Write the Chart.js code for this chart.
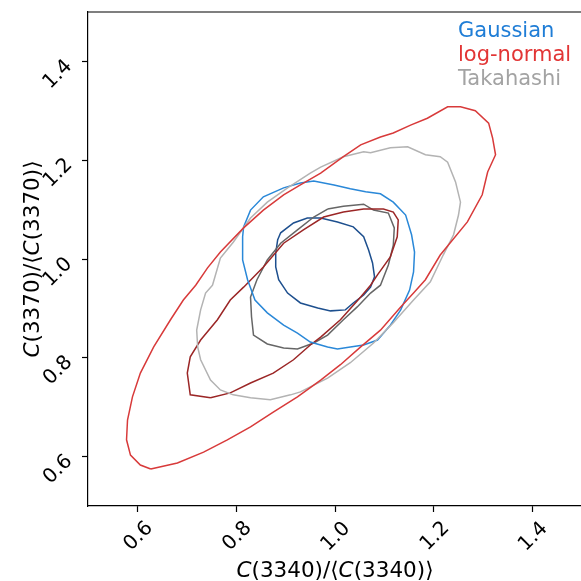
<!DOCTYPE html>
<html>
<head>
<meta charset="utf-8">
<script src="https://cdn.jsdelivr.net/npm/chart.js@4.4.1/dist/chart.umd.min.js"></script>
<style>
  html, body { margin: 0; padding: 0; background: #fff; overflow: hidden; }
  #wrap { width: 590px; height: 581px; }
</style>
</head>
<body>
<div id="wrap"><canvas id="chart" width="590" height="581"></canvas></div>
<script>
// ----- contour outlines, [x, y] relative to the mean -----
const lognormalOuter = [
  [0.627, 0.575], [0.681, 0.587], [0.734, 0.609], [0.782, 0.634], [0.829, 0.660],
  [0.875, 0.690], [0.924, 0.721], [0.971, 0.755], [1.011, 0.786], [1.052, 0.822],
  [1.092, 0.856], [1.133, 0.903], [1.159, 0.931], [1.183, 0.958], [1.213, 1.008],
  [1.268, 1.075], [1.298, 1.130], [1.309, 1.176], [1.325, 1.211], [1.319, 1.245],
  [1.311, 1.275], [1.284, 1.300], [1.254, 1.308], [1.228, 1.308], [1.187, 1.285],
  [1.153, 1.271], [1.118, 1.255], [1.092, 1.247], [1.052, 1.231], [1.017, 1.207],
  [0.971, 1.174], [0.930, 1.150], [0.896, 1.130], [0.855, 1.099], [0.815, 1.063],
  [0.768, 1.014], [0.742, 0.982], [0.718, 0.947], [0.693, 0.917], [0.667, 0.877],
  [0.633, 0.822], [0.606, 0.769], [0.590, 0.721], [0.580, 0.674], [0.578, 0.634],
  [0.586, 0.603], [0.606, 0.583]
];
const lognormalInner = [
  [0.748, 0.719], [0.788, 0.729], [0.829, 0.749], [0.875, 0.769], [0.916, 0.796],
  [0.950, 0.826], [0.971, 0.842], [1.011, 0.877], [1.052, 0.923], [1.072, 0.947],
  [1.086, 0.968], [1.112, 1.004], [1.126, 1.045], [1.128, 1.079], [1.118, 1.095],
  [1.098, 1.101], [1.058, 1.101], [1.017, 1.095], [0.977, 1.085], [0.936, 1.059],
  [0.896, 1.032], [0.855, 0.984], [0.815, 0.943], [0.788, 0.917], [0.762, 0.877],
  [0.728, 0.836], [0.707, 0.802], [0.701, 0.769], [0.707, 0.725]
];
const takahashiOuter = [
  [0.752, 0.947], [0.768, 1.002], [0.794, 1.034], [0.829, 1.083], [0.863, 1.115],
  [0.904, 1.144], [0.950, 1.174], [0.971, 1.186], [1.017, 1.207], [1.058, 1.217],
  [1.072, 1.215], [1.112, 1.225], [1.147, 1.227], [1.183, 1.211], [1.213, 1.207],
  [1.228, 1.196], [1.244, 1.156], [1.254, 1.115], [1.250, 1.089], [1.240, 1.049],
  [1.219, 1.008], [1.193, 0.954], [1.159, 0.917], [1.118, 0.871], [1.078, 0.830],
  [1.031, 0.790], [0.985, 0.759], [0.930, 0.731], [0.910, 0.725], [0.869, 0.715],
  [0.829, 0.719], [0.794, 0.725], [0.768, 0.735], [0.748, 0.755], [0.728, 0.796],
  [0.722, 0.822], [0.720, 0.856], [0.728, 0.897], [0.738, 0.931]
];
const takahashiInner = [
  [0.985, 1.101], [1.017, 1.107], [1.058, 1.111], [1.078, 1.099], [1.108, 1.093],
  [1.120, 1.063], [1.118, 1.028], [1.108, 0.988], [1.092, 0.947], [1.072, 0.931],
  [1.045, 0.903], [1.017, 0.877], [0.985, 0.846], [0.957, 0.830], [0.924, 0.818],
  [0.896, 0.820], [0.863, 0.828], [0.835, 0.846], [0.831, 0.883], [0.829, 0.923],
  [0.842, 0.958], [0.863, 0.998], [0.890, 1.032], [0.924, 1.059], [0.957, 1.085]
];
const gaussianOuter = [
  [0.813, 1.045], [0.815, 1.065], [0.829, 1.099], [0.855, 1.126], [0.896, 1.144],
  [0.930, 1.154], [0.957, 1.158], [0.998, 1.150], [1.031, 1.142], [1.062, 1.136],
  [1.092, 1.132], [1.118, 1.115], [1.143, 1.089], [1.155, 1.049], [1.161, 1.014],
  [1.159, 0.974], [1.151, 0.937], [1.133, 0.897], [1.112, 0.866], [1.086, 0.836],
  [1.058, 0.826], [1.031, 0.822], [1.005, 0.818], [0.985, 0.822], [0.950, 0.832],
  [0.924, 0.850], [0.896, 0.866], [0.863, 0.891], [0.838, 0.917], [0.823, 0.958],
  [0.813, 0.998]
];
const gaussianInner = [
  [0.884, 1.039], [0.890, 1.053], [0.916, 1.073], [0.944, 1.083], [0.971, 1.083],
  [1.005, 1.075], [1.037, 1.065], [1.058, 1.045], [1.068, 1.018], [1.076, 0.992],
  [1.080, 0.964], [1.072, 0.943], [1.058, 0.927], [1.037, 0.911], [1.021, 0.897],
  [0.991, 0.895], [0.965, 0.901], [0.930, 0.911], [0.904, 0.931], [0.886, 0.958],
  [0.880, 0.984], [0.880, 1.012]
];

const legendLabels = ['Gaussian', 'log-normal', 'Takahashi'];
const legendColors = ['#1f7dd6', '#e23535', '#a3a3a3'];
const xTicks = [0.6, 0.8, 1.0, 1.2, 1.4];
const yTicks = [0.6, 0.8, 1.0, 1.2, 1.4];
// axis titles: [text, italic?]
const xTitle = [['C', true], ['(3340)/\u27E8', false], ['C', true], ['(3340)\u27E9', false]];
const yTitle = [['C', true], ['(3370)/\u27E8', false], ['C', true], ['(3370)\u27E9', false]];

const FONT = "'DejaVu Sans', sans-serif";

function contour(points, color) {
  const pts = points.map(p => ({ x: p[0], y: p[1] }));
  pts.push(pts[0]); // close the loop
  return {
    data: pts,
    showLine: true,
    borderColor: color,
    borderWidth: 1.5,
    pointRadius: 0,
    fill: false,
    tension: 0
  };
}

function drawMixed(ctx, parts, cx, cy, rot, size) {
  ctx.save();
  ctx.translate(cx, cy);
  ctx.rotate(rot);
  let total = 0;
  const widths = parts.map(p => {
    ctx.font = (p[1] ? 'italic ' : '') + size + 'px ' + FONT;
    const w = ctx.measureText(p[0]).width;
    total += w;
    return w;
  });
  let x = -total / 2;
  ctx.textBaseline = 'middle';
  ctx.textAlign = 'left';
  ctx.fillStyle = '#000';
  parts.forEach((p, i) => {
    ctx.font = (p[1] ? 'italic ' : '') + size + 'px ' + FONT;
    ctx.fillText(p[0], x, 0);
    x += widths[i];
  });
  ctx.restore();
}

// rotated tick label, ink centred on (cx, cy)
function drawTickLabel(ctx, text, cx, cy) {
  ctx.save();
  ctx.font = '20px ' + FONT;
  ctx.fillStyle = '#000';
  ctx.textAlign = 'left';
  ctx.textBaseline = 'alphabetic';
  const m = ctx.measureText(text);
  ctx.translate(cx, cy);
  ctx.rotate(-Math.PI / 4);
  const dx = -(m.actualBoundingBoxRight - m.actualBoundingBoxLeft) / 2;
  const dy = (m.actualBoundingBoxAscent - m.actualBoundingBoxDescent) / 2;
  ctx.fillText(text, dx, dy);
  ctx.restore();
}

// top spine, tick labels, axis titles and the text-only legend
const decor = {
  id: 'decor',
  afterDraw(chart) {
    const { ctx, chartArea: a, scales } = chart;
    ctx.save();
    ctx.strokeStyle = '#000';
    ctx.lineWidth = 1.2;
    ctx.beginPath();
    ctx.moveTo(a.left, a.top);
    ctx.lineTo(a.right, a.top);
    ctx.lineTo(a.right, a.bottom);
    ctx.stroke();
    ctx.restore();

    xTicks.forEach(v => drawTickLabel(ctx, v.toFixed(1), scales.x.getPixelForValue(v), a.bottom + 29));
    yTicks.forEach(v => drawTickLabel(ctx, v.toFixed(1), a.left - 31, scales.y.getPixelForValue(v) + 11.5));

    drawMixed(ctx, xTitle, (a.left + a.right) / 2, 571, 0, 21.5);
    drawMixed(ctx, yTitle, 33, (a.top + a.bottom) / 2, -Math.PI / 2, 21.5);

    ctx.save();
    ctx.font = '21px ' + FONT;
    ctx.textAlign = 'left';
    ctx.textBaseline = 'alphabetic';
    legendLabels.forEach((t, i) => {
      ctx.fillStyle = legendColors[i];
      ctx.fillText(t, 458, 37 + i * 24);
    });
    ctx.restore();
  }
};

const tickGrid = { display: true, drawOnChartArea: false, drawTicks: true, tickLength: 6, tickWidth: 1.2, tickColor: '#000' };

new Chart(document.getElementById('chart'), {
  type: 'scatter',
  data: {
    datasets: [
      contour(lognormalOuter, '#d83a3a'),
      contour(takahashiOuter, '#b3b3b3'),
      contour(gaussianOuter, '#2a88d8'),
      contour(lognormalInner, '#9b2626'),
      contour(takahashiInner, '#666666'),
      contour(gaussianInner, '#1d4f8e')
    ]
  },
  options: {
    responsive: false,
    animation: false,
    devicePixelRatio: 1,
    layout: { padding: { left: 0, top: 12, right: 8, bottom: 0 } },
    plugins: { legend: { display: false }, tooltip: { enabled: false } },
    scales: {
      x: {
        type: 'linear',
        min: 0.5,
        max: 1.5,
        afterFit: s => { s.height = 75; s.paddingLeft = 0; s.paddingRight = 0; },
        afterBuildTicks: s => { s.ticks = xTicks.map(v => ({ value: v })); },
        grid: tickGrid,
        border: { display: true, color: '#000', width: 1.2 },
        ticks: { display: false }
      },
      y: {
        type: 'linear',
        min: 0.5,
        max: 1.5,
        afterFit: s => { s.width = 88; s.paddingTop = 0; s.paddingBottom = 0; },
        afterBuildTicks: s => { s.ticks = yTicks.map(v => ({ value: v })); },
        grid: tickGrid,
        border: { display: true, color: '#000', width: 1.2 },
        ticks: { display: false }
      }
    }
  },
  plugins: [decor]
});
</script>
</body>
</html>
